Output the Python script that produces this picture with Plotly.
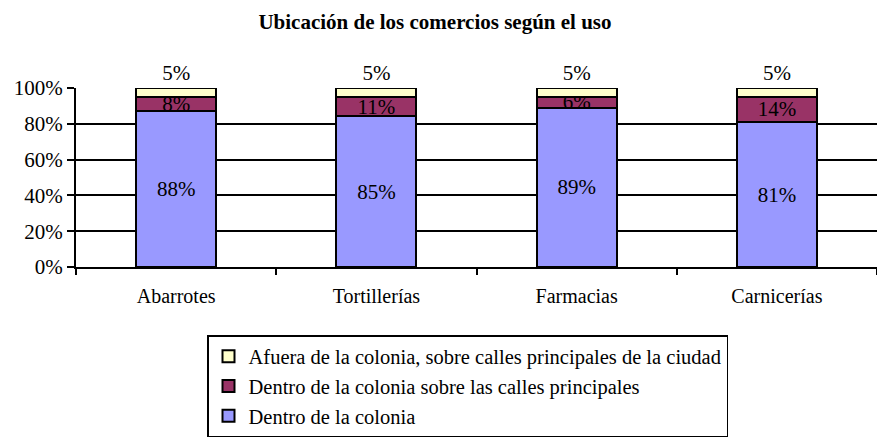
import plotly.graph_objects as go

categories = ["Abarrotes", "Tortillerías", "Farmacias", "Carnicerías"]
dentro = [88, 85, 89, 81]
dentro_calles = [8, 11, 6, 14]
afuera = [5, 5, 5, 5]

names = [
    "Dentro de la colonia",
    "Dentro de la colonia sobre las calles principales",
    "Afuera de la colonia, sobre calles principales de la ciudad",
]
colors = ["#9999FF", "#993366", "#FFFFCC"]
FONT = "Liberation Serif"

H = 438.0
W = 877.0
L = 76
fig = go.Figure()
series = [dentro, dentro_calles, afuera]
positions = ["inside", "inside", "outside"]
for vals, name, col, pos in zip(series, names, colors, positions):
    fig.add_trace(go.Bar(
        x=categories, y=vals, name=name,
        marker=dict(color=col, line=dict(color="black", width=2)),
        text=[f"{v}%" for v in vals], textposition=pos,
        insidetextanchor="middle", constraintext="none",
        textfont=dict(family=FONT, size=21, color="black"),
        cliponaxis=False,
    ))

fig.update_layout(
    barmode="stack", barnorm="percent", bargap=0.6,
    width=877, height=438,
    margin=dict(l=L, r=0, t=0, b=0, autoexpand=False),
    paper_bgcolor="white", plot_bgcolor="white",
    font=dict(family=FONT, size=21, color="black"),
    title=dict(text="<b>Ubicación de los comercios según el uso</b>",
               x=0.496, xanchor="center", yref="container",
               y=1 - 22 / H, yanchor="middle",
               font=dict(family=FONT, size=21, color="black")),
    showlegend=True,
    legend=dict(orientation="v", traceorder="reversed",
                x=(207 - L) / (W - L), xanchor="left",
                y=(H - 335) / H, yanchor="top",
                bordercolor="black", borderwidth=1.5,
                font=dict(family=FONT, size=20.5, color="black"),
                itemsizing="constant", itemwidth=30, tracegroupgap=0),
)
fig.update_yaxes(range=[0, 100], dtick=20, ticksuffix="%",
                 domain=[(H - 267) / H, (H - 88) / H],
                 showgrid=True, gridcolor="black", gridwidth=2,
                 showline=True, linecolor="black", linewidth=2,
                 ticks="outside", ticklen=7, tickwidth=2, tickcolor="black",
                 tickfont=dict(family=FONT, size=21), zeroline=False)
fig.update_xaxes(showline=True, linecolor="black", linewidth=2,
                 ticks="outside", tickson="boundaries", ticklen=6,
                 tickwidth=2, tickcolor="black", ticklabelstandoff=10,
                 tickfont=dict(family=FONT, size=20))

fig.write_html("out.html", post_script="document.body.style.margin='0';",
               config={"displayModeBar": False})
